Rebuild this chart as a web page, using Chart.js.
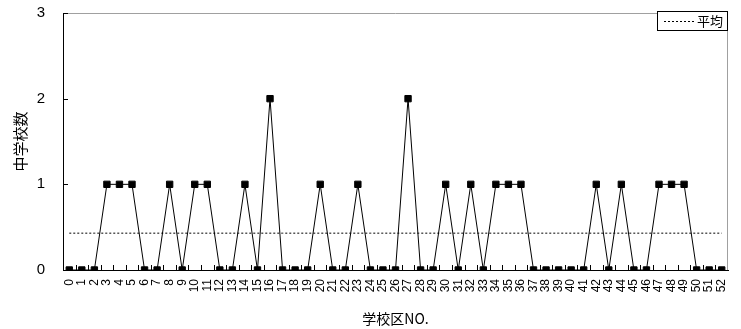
<!DOCTYPE html>
<html>
<head>
<meta charset="utf-8">
<script src="https://cdn.jsdelivr.net/npm/chart.js@4"></script>
<style>
  html, body { margin: 0; padding: 0; background: #fff; }
  #wrap { width: 741px; height: 329px; }
</style>
</head>
<body>
<div id="wrap"><canvas id="grafico"></canvas></div>
<script>
// 学校区NO.
const categorias = [];
for (let i = 0; i <= 52; i++) categorias.push(String(i));

// 中学校数 per 学校区
const escolas = [
  0, 0, 0, 1, 1, 1, 0, 0, 1, 0,
  1, 1, 0, 0, 1, 0, 2, 0, 0, 0,
  1, 0, 0, 1, 0, 0, 0, 2, 0, 0,
  1, 0, 1, 0, 1, 1, 1, 0, 0, 0,
  0, 0, 1, 0, 1, 0, 0, 1, 1, 1,
  0, 0, 0
];

// 平均
const media = 0.43;
const yTicks = [0, 1, 2, 3];

const fonteLatina = '"Liberation Sans", Arial, sans-serif';
const fonteCJK = '"Noto Sans CJK JP", "Liberation Sans", sans-serif';

// frame, inward tick marks and the small legend box
const molduraPlugin = {
  id: 'moldura',
  afterDraw(chart) {
    const { ctx, chartArea: a, scales } = chart;
    ctx.save();
    ctx.lineWidth = 1;

    // gray top/right border
    ctx.strokeStyle = '#a0a0a0';
    ctx.beginPath();
    ctx.moveTo(a.left, a.top + 0.5);
    ctx.lineTo(a.right - 0.5, a.top + 0.5);
    ctx.lineTo(a.right - 0.5, a.bottom);
    ctx.stroke();

    // x ticks between categories, pointing up
    ctx.strokeStyle = '#000';
    const x = scales.x;
    const passo = x.getPixelForValue(1) - x.getPixelForValue(0);
    ctx.beginPath();
    for (let i = 1; i < categorias.length; i++) {
      const px = Math.round(x.getPixelForValue(i) - passo / 2) + 0.5;
      ctx.moveTo(px, a.bottom);
      ctx.lineTo(px, a.bottom - 5);
    }
    // y ticks pointing right
    const y = scales.y;
    yTicks.forEach(v => {
      if (v === 0) return;
      const py = Math.round(y.getPixelForValue(v)) + 0.5;
      ctx.moveTo(a.left, py);
      ctx.lineTo(a.left + 5, py);
    });
    ctx.stroke();

    // legend
    const lx = 657, ly = 11, lw = 70, lh = 19;
    ctx.fillStyle = '#fff';
    ctx.fillRect(lx, ly, lw, lh);
    ctx.strokeStyle = '#000';
    ctx.strokeRect(lx + 0.5, ly + 0.5, lw, lh);
    ctx.setLineDash([2, 2]);
    ctx.beginPath();
    ctx.moveTo(664, ly + 10.5);
    ctx.lineTo(694, ly + 10.5);
    ctx.stroke();
    ctx.setLineDash([]);
    ctx.fillStyle = '#000';
    ctx.font = '13px ' + fonteCJK;
    ctx.textBaseline = 'middle';
    ctx.textAlign = 'left';
    ctx.fillText('平均', 697, ly + 10);
    ctx.restore();
  }
};

const ctx = document.getElementById('grafico').getContext('2d');
new Chart(ctx, {
  type: 'line',
  data: {
    labels: categorias,
    datasets: [
      {
        label: '中学校数',
        data: escolas,
        borderColor: '#000',
        borderWidth: 1,
        backgroundColor: '#000',
        pointStyle: 'rect',
        pointRadius: 4.5,
        pointBorderWidth: 1,
        pointBackgroundColor: '#000',
        pointBorderColor: '#000',
        tension: 0
      },
      {
        label: '平均',
        data: categorias.map(() => media),
        borderColor: '#000',
        borderWidth: 1,
        borderDash: [2, 2],
        pointRadius: 0,
        tension: 0
      }
    ]
  },
  options: {
    responsive: true,
    maintainAspectRatio: false,
    animation: false,
    layout: { padding: { top: 13, right: 13, left: 0, bottom: 0 } },
    plugins: {
      legend: { display: false },
      tooltip: { enabled: false }
    },
    scales: {
      x: {
        type: 'category',
        offset: true,
        // invisible tick marks only used to push the labels away from the axis
        grid: { display: true, drawOnChartArea: false, drawTicks: true, tickLength: 7, tickColor: 'rgba(0,0,0,0)' },
        border: { display: true, color: '#000', width: 1 },
        ticks: {
          autoSkip: false,
          maxRotation: 90,
          minRotation: 90,
          padding: 2,
          color: '#000',
          font: { family: fonteLatina, size: 12 }
        },
        title: {
          display: true,
          text: '学校区NO.',
          color: '#000',
          font: { family: fonteCJK, size: 14 },
          padding: { top: 0, bottom: 2 }
        },
        afterFit(scale) { scale.height = 59; }
      },
      y: {
        min: 0,
        max: 3,
        grid: { display: true, drawOnChartArea: false, drawTicks: true, tickLength: 16, tickColor: 'rgba(0,0,0,0)' },
        border: { display: true, color: '#000', width: 1 },
        ticks: {
          stepSize: 1,
          padding: 2,
          color: '#000',
          font: { family: fonteLatina, size: 15 }
        },
        title: {
          display: true,
          text: '中学校数',
          color: '#000',
          font: { family: fonteCJK, size: 15 },
          padding: { top: 11, bottom: 0 }
        },
        afterFit(scale) { scale.width = 63; }
      }
    }
  },
  plugins: [molduraPlugin]
});
</script>
</body>
</html>
